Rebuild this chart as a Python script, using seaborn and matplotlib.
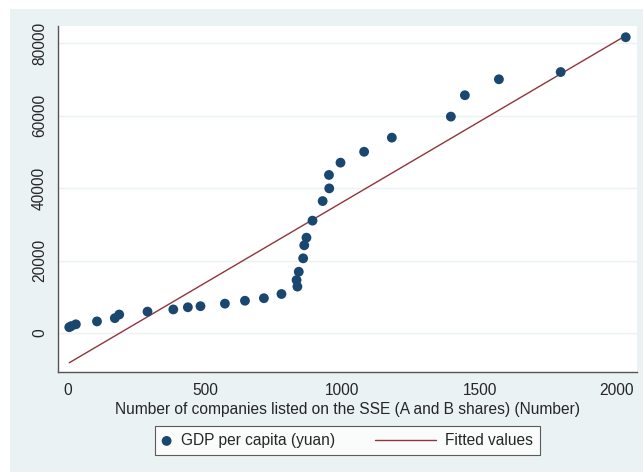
import numpy as np
import pandas as pd
import seaborn as sns
import matplotlib.pyplot as plt
from matplotlib.patches import Rectangle
from matplotlib.lines import Line2D
from matplotlib.legend_handler import HandlerBase

# Number of listed companies on the SSE vs GDP per capita
companies = [5, 12, 29, 106, 171, 187, 290, 384, 437, 483, 572, 645, 714,
             778, 836, 833, 841, 857, 861, 869, 891, 928, 952, 951, 993,
             1079, 1180, 1395, 1446, 1570, 1795, 2032]
gdp_per_capita = [1600, 1900, 2400, 3200, 4100, 5100, 5900, 6500, 7100, 7400,
                  8100, 8900, 9600, 10760, 12800, 14600, 16900, 20600, 24200,
                  26300, 31000, 36400, 39900, 43600, 47000, 50000, 53900,
                  59700, 65600, 70000, 72000, 81600]

x_ticks = [0, 500, 1000, 1500, 2000]
y_ticks = [0, 20000, 40000, 60000, 80000]

df = pd.DataFrame({"companies": companies, "gdp": gdp_per_capita})

navy = "#1a476f"
maroon = "#90353b"
panel = "#eaf2f3"


# legend line that reaches further left than the (short) handle box
class LongLine(HandlerBase):
    def create_artists(self, legend, orig_handle, xdescent, ydescent,
                       width, height, fontsize, trans):
        y = -ydescent + height / 2
        line = Line2D([-xdescent - 3.3 * fontsize, -xdescent + width], [y, y],
                      color=orig_handle.get_color(),
                      linewidth=orig_handle.get_linewidth())
        line.set_transform(trans)
        return [line]


sns.set_style("white")
plt.rcParams["font.family"] = ["Liberation Sans", "DejaVu Sans"]

fig = plt.figure(figsize=(6.43, 4.72), dpi=100)
fig.patch.set_facecolor("white")
fig.patches.append(Rectangle((10 / 643, 0), 1, (472 - 9) / 472,
                             transform=fig.transFigure, facecolor=panel,
                             edgecolor="none", zorder=-10))

ax = fig.add_axes([58 / 643, 1 - 372 / 472, (637 - 58) / 643, (372 - 26) / 472])
ax.set_facecolor("white")

sns.scatterplot(data=df, x="companies", y="gdp", ax=ax, color=navy, s=50,
                edgecolor="none", label="GDP per capita (yuan)", zorder=3)
sns.regplot(data=df, x="companies", y="gdp", ax=ax, scatter=False, ci=None,
            truncate=True, color=maroon, line_kws={"linewidth": 1.0},
            label="Fitted values")

ax.set_xlim(-36, 2073)
ax.set_ylim(-10760, 84700)
ax.set_xticks(x_ticks)
ax.set_yticks(y_ticks)
ax.yaxis.grid(True, color=panel, linewidth=1.0)
ax.xaxis.grid(False)
ax.set_axisbelow(True)

for side in ["top", "right"]:
    ax.spines[side].set_visible(False)
for side in ["left", "bottom"]:
    ax.spines[side].set_color("#555555")
    ax.spines[side].set_linewidth(1.0)

ax.tick_params(axis="both", which="major", direction="out", length=5,
               width=0.8, color="#555555", labelsize=11.2, pad=3)
plt.setp(ax.get_yticklabels(), rotation=90, va="center")

ax.set_xlabel("Number of companies listed on the SSE (A and B shares) (Number)",
              fontsize=11.2, labelpad=3)
ax.set_ylabel("")

handles, labels = ax.get_legend_handles_labels()
leg = ax.legend(handles, labels, loc="center", bbox_to_anchor=(0.5, -0.198),
                ncol=2, frameon=True, fancybox=False, fontsize=11.2,
                handlelength=0.6, handletextpad=0.6, columnspacing=5.9,
                borderpad=0.45, handler_map={handles[1]: LongLine()})
leg.get_frame().set_edgecolor("#333333")
leg.get_frame().set_linewidth(0.8)

plt.savefig("out.png", dpi=100)
